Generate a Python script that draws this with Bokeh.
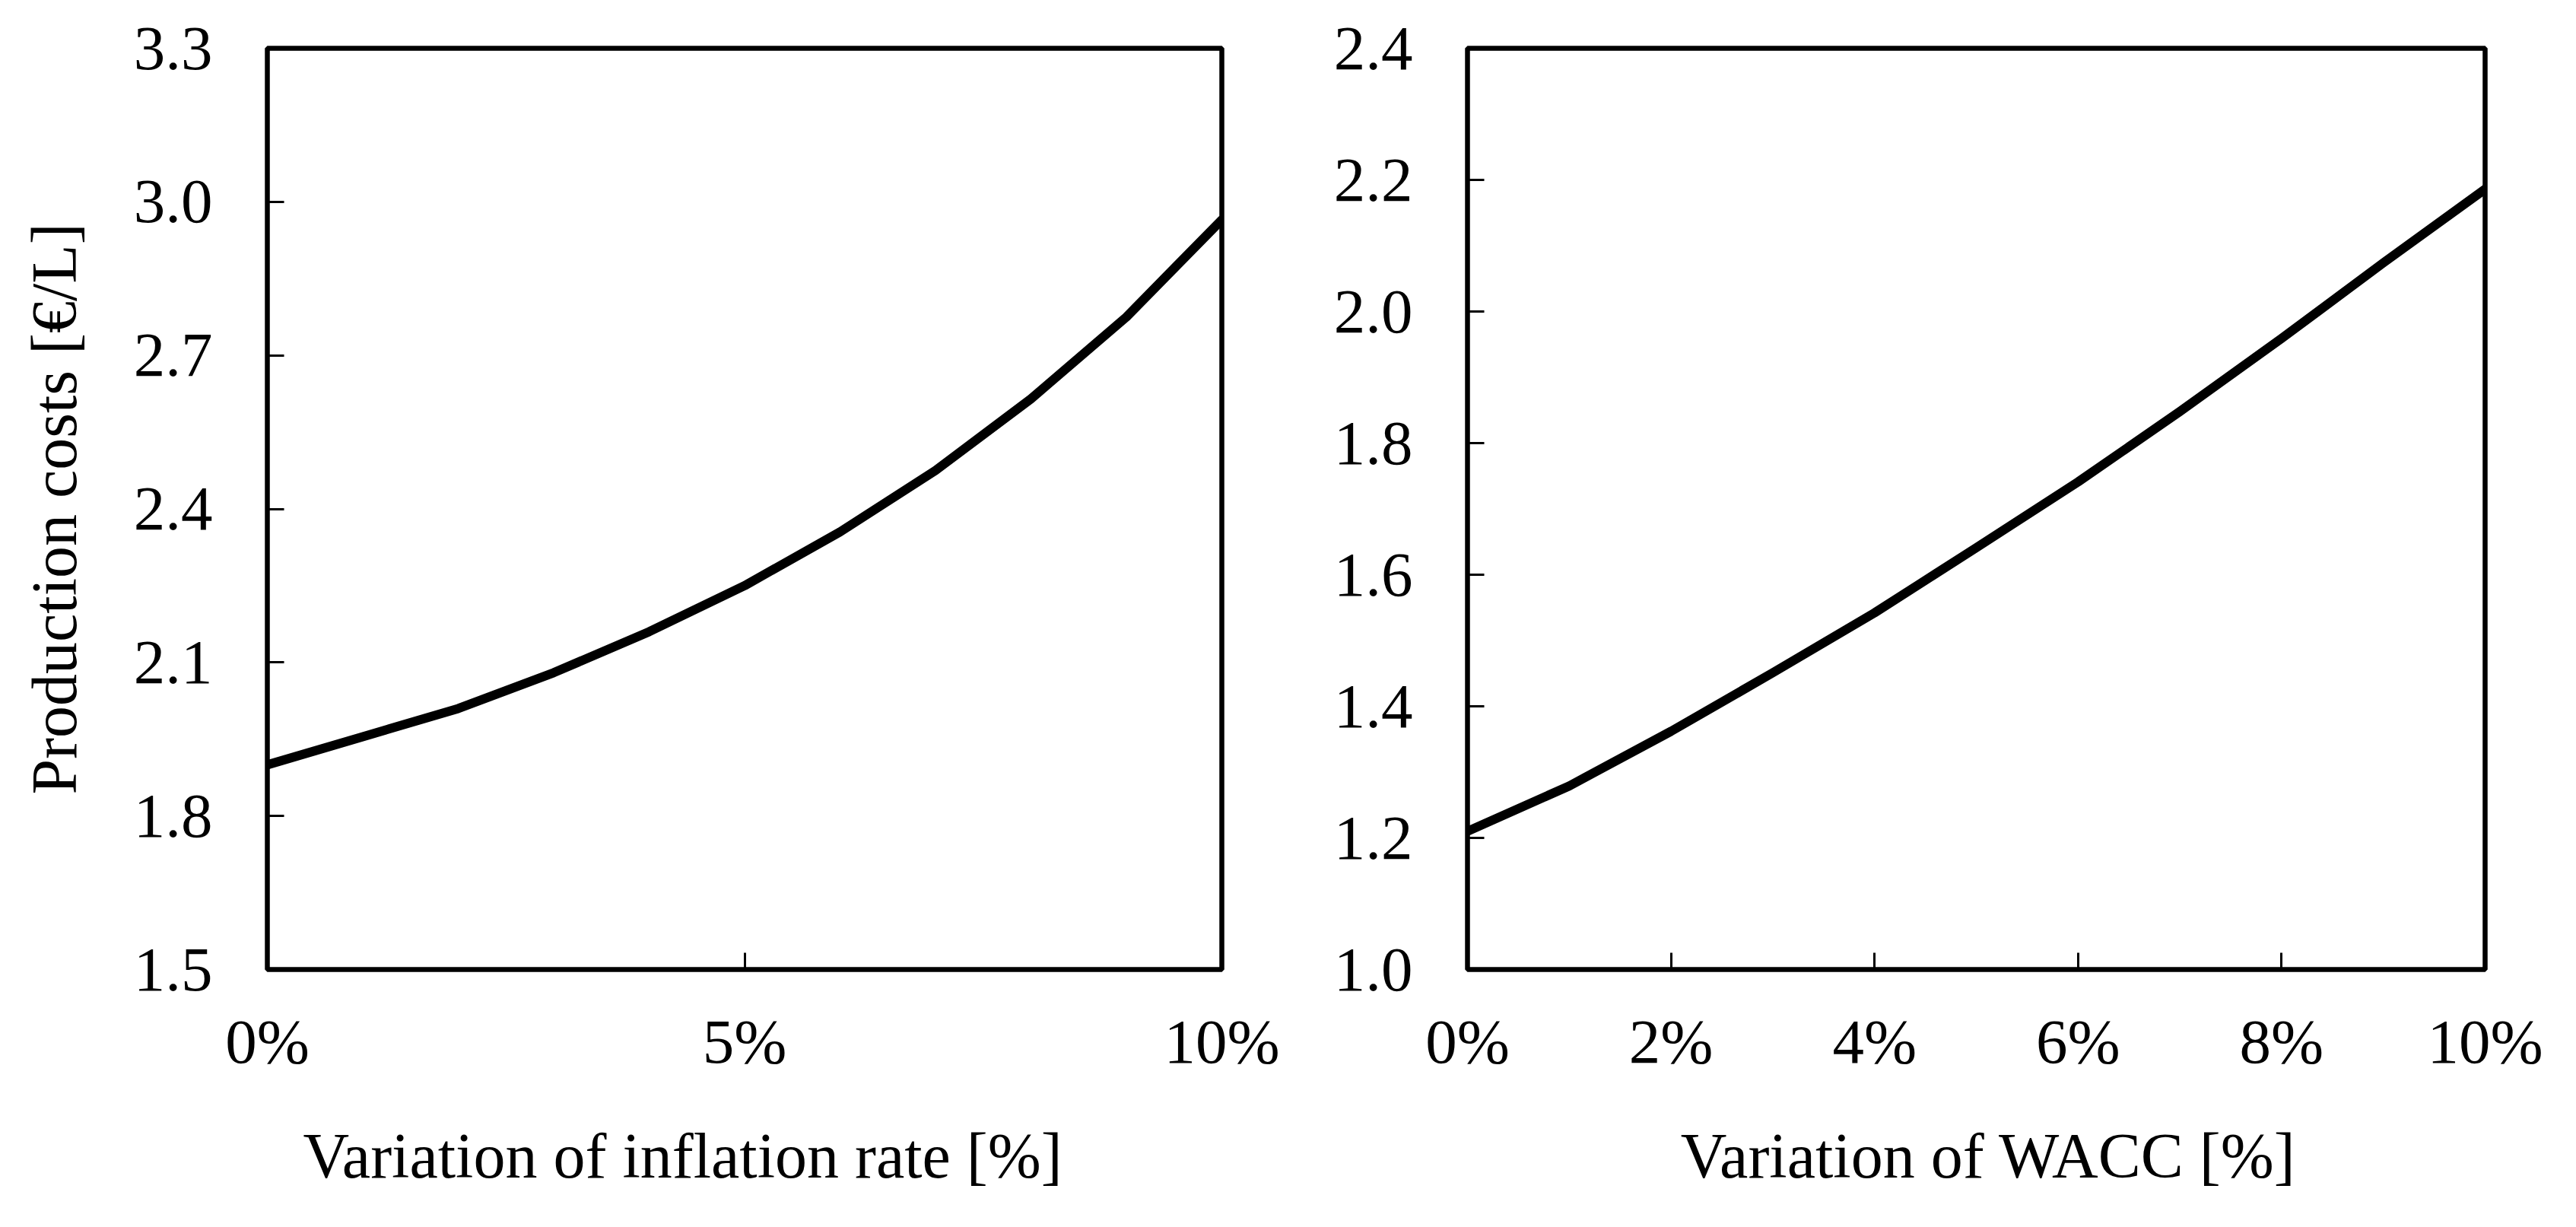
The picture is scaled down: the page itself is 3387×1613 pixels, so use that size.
from bokeh.plotting import figure
from bokeh.layouts import row, column
from bokeh.models import FixedTicker, NumeralTickFormatter, CustomJSTickFormatter, Range1d
from bokeh.core.properties import value
from bokeh.embed import file_html
from bokeh.resources import INLINE

# ---- data ----
inflation_x = [0, 1, 2, 3, 4, 5, 6, 7, 8, 9, 10]
inflation_cost = [1.90, 1.955, 2.01, 2.08, 2.16, 2.25, 2.355, 2.475, 2.615, 2.775, 2.965]
inflation_xticks = [0, 5, 10]
inflation_yticks = [1.5, 1.8, 2.1, 2.4, 2.7, 3.0, 3.3]

wacc_x = [0, 1, 2, 3, 4, 5, 6, 7, 8, 9, 10]
wacc_cost = [1.21, 1.279, 1.362, 1.451, 1.542, 1.641, 1.741, 1.848, 1.959, 2.074, 2.186]
wacc_xticks = [0, 2, 4, 6, 8, 10]
wacc_yticks = [1.0, 1.2, 1.4, 1.6, 1.8, 2.0, 2.2, 2.4]

y_title = "Production costs [€/L]"
x_title_left = "Variation of inflation rate [%]"
x_title_right = "Variation of WACC [%]"

FONT = "Liberation Serif"
TICK_FS = "83px"
TITLE_FS = "84px"

TOP_H = 1435      # height of the two chart panels
STRIP_H = 162     # height of the strip holding the x-axis titles
W1, W2 = 1702, 1661
FH1, FH2 = 1212, 1217   # frame heights


def style(p, xticks, yticks):
    p.outline_line_color = "black"
    p.outline_line_width = 6.5
    p.background_fill_color = "white"
    p.border_fill_color = "white"
    p.xgrid.visible = False
    p.ygrid.visible = False
    for ax in (p.xaxis[0], p.yaxis[0]):
        ax.axis_line_color = None
        ax.major_tick_in = 22
        ax.major_tick_out = 0
        ax.major_tick_line_width = 3
        ax.major_tick_line_color = "black"
        ax.minor_tick_line_color = None
        ax.major_label_text_font = FONT
        ax.major_label_text_font_size = TICK_FS
        ax.major_label_text_color = "black"
    p.xaxis[0].ticker = FixedTicker(ticks=xticks)
    p.yaxis[0].ticker = FixedTicker(ticks=yticks)
    p.xaxis[0].formatter = CustomJSTickFormatter(code="return tick.toFixed(0) + '%';")
    p.yaxis[0].formatter = NumeralTickFormatter(format="0.0")
    p.xaxis[0].major_label_standoff = 48
    p.yaxis[0].major_label_standoff = 72


# ---- left panel ----
p1 = figure(width=W1, height=TOP_H, output_backend="svg", toolbar_location=None,
            x_range=Range1d(0, 10), y_range=Range1d(1.5, 3.3),
            min_border_left=351, min_border_right=96, min_border_top=62,
            min_border_bottom=TOP_H - 62 - FH1)
style(p1, inflation_xticks, inflation_yticks)
p1.yaxis[0].axis_label = y_title
p1.yaxis[0].axis_label_text_font = FONT
p1.yaxis[0].axis_label_text_font_size = TITLE_FS
p1.yaxis[0].axis_label_text_font_style = "normal"
p1.yaxis[0].axis_label_text_color = "black"
p1.yaxis[0].axis_label_standoff = 55
p1.line(inflation_x, inflation_cost, line_color="black", line_width=12,
        line_join="round", line_cap="round")

# ---- right panel ----
p2 = figure(width=W2, height=TOP_H, output_backend="svg", toolbar_location=None,
            x_range=Range1d(0, 10), y_range=Range1d(1.0, 2.4),
            min_border_left=227, min_border_right=96, min_border_top=63,
            min_border_bottom=TOP_H - 63 - FH2)
style(p2, wacc_xticks, wacc_yticks)
p2.line(wacc_x, wacc_cost, line_color="black", line_width=12,
        line_join="round", line_cap="round")

# ---- strip with the x-axis titles (pixel-scaled ranges) ----
strip = figure(width=W1 + W2, height=STRIP_H, output_backend="svg", toolbar_location=None,
               x_range=Range1d(0, W1 + W2), y_range=Range1d(0, STRIP_H),
               x_axis_type=None, y_axis_type=None, min_border=0)
strip.outline_line_color = None
strip.xgrid.visible = False
strip.ygrid.visible = False
strip.background_fill_color = "white"
strip.border_fill_color = "white"
strip.text(x=[398], y=[78], text=[x_title_left], text_font=value(FONT),
           text_font_size=value(TITLE_FS), text_color="black",
           text_align="left", text_baseline="alphabetic")
strip.text(x=[2614], y=[78], text=[x_title_right], text_font=value(FONT),
           text_font_size=value(TITLE_FS), text_color="black",
           text_align="center", text_baseline="alphabetic")

layout = column(row(p1, p2, spacing=0), strip, spacing=0)
open("out.html", "w").write(file_html(layout, INLINE))
